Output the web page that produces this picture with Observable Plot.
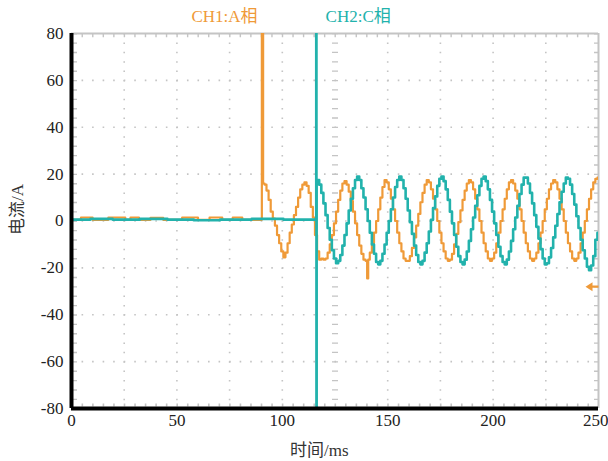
<!DOCTYPE html>
<html><head><meta charset="utf-8">
<script src="https://cdn.jsdelivr.net/npm/d3@7"></script>
<script src="https://cdn.jsdelivr.net/npm/@observablehq/plot@0.6"></script>
<style>
html,body{margin:0;padding:0;background:#fff;}
#chart svg, #chart svg text { font-family: "Liberation Serif", "Noto Sans CJK SC", serif !important; }
</style></head><body><div id="chart"></div>
<script>
const channelNames = ["CH1:A相", "CH2:C相"];
const xLabel = "时间/ms";
const yLabel = "电流/A";
const xTicks = [0, 50, 100, 150, 200];
const xLastTick = [250];
const yTicks = [-80, -60, -40, -20, 0, 20, 40, 60, 80];
const gridXTicks = [25, 50, 75, 100, 150, 175, 200, 225];
const gridYTicks = [-60, -40, -20, 0, 20, 40, 60];
const centerTime = [125];
const triggerLevel = [-28];

// CH1 (A phase) samples: [time ms, current A]
const ch1 = [[0,0.5],[9,1.5],[11,0.5],[24,1.5],[27,0.5],[29,1.5],[35,0.5],[40,1.3],[47,0.5],[58,1.5],[62,0.5],[69,1.5],[74,0.5],[79,1.5],[83,0.5],[90,0.5],[90.6,85],[91.2,16],[92,15.5],[93,13],[94,9],[95,4],[96,1],[97,-2],[98,-6],[99,-9.5],[100,-13],[101,-15.5],[102,-13.5],[103,-9.5],[104,-5],[105,-1.5],[106,2.5],[107,6],[108,10],[109,13.5],[110,15.5],[111,16.5],[112,15],[113,12],[114,6],[115,1.5],[116,-6],[117,-13],[118,-16.5],[119,-16],[120,-16.5],[121,-16],[122,-13.5],[123,-10],[124,-6],[125,-1],[126,4],[127,9],[128,13],[129,16],[130,17],[131,15.5],[132,12.5],[133,8.5],[134,4],[135,-1],[136,-6],[137,-10.5],[138,-14],[139,-16.5],[140,-17],[140.5,-24.5],[141,-16.5],[142,-13.5],[143,-9.5],[144,-5],[145,0],[146,5],[147,10],[148,14.5],[149,17.5],[150,16.5],[151,13.5],[152,9.5],[153,5],[154,0],[155,-5],[156,-9.5],[157,-13],[158,-16],[159,-17],[160,-17],[161,-15],[162,-11.5],[163,-7],[164,-2],[165,3],[166,8],[167,12],[168,15.5],[169,17.5],[170,16.5],[171,13.5],[172,9.5],[173,5],[174,0],[175,-5],[176,-9.5],[177,-13],[178,-16],[179,-17],[180,-16.5],[181,-14],[182,-10],[183,-5.5],[184,-0.5],[185,4.5],[186,9],[187,13],[188,16],[189,17.5],[190,16.5],[191,13.5],[192,9.5],[193,5],[194,0],[195,-5],[196,-9.5],[197,-13],[198,-16],[199,-17],[200,-16],[201,-13.5],[202,-9.5],[203,-5],[204,0],[205,5],[206,9.5],[207,13.5],[208,16.5],[209,17.5],[210,16],[211,13],[212,9.5],[213,5],[214,0],[215,-5],[216,-9.5],[217,-13],[218,-16],[219,-17],[220,-16],[221,-13.5],[222,-9.5],[223,-5],[224,0],[225,5],[226,9.5],[227,13.5],[228,16],[229,17.5],[230,16.5],[231,13.5],[232,9.5],[233,5],[234,0],[235,-5],[236,-9.5],[237,-13],[238,-16],[239,-17],[240,-16],[241,-13.5],[242,-9.5],[243,-5],[244,0],[245,5],[246,9.5],[247,13.5],[248,16.5],[249,18],[250,18.5]];

// CH2 (C phase) samples: [time ms, current A]
const ch2 = [[0,0.6],[18,0.9],[21,0.6],[44,0.9],[47,0.6],[69,0.3],[72,0.6],[99,0.9],[102,0.6],[116,0.6],[116.2,85],[116.2,-85],[116.4,17],[117,17.5],[118,15.5],[119,12],[120,7.5],[121,2.5],[122,-3],[123,-8],[124,-12.5],[125,-16],[126,-18],[127,-17],[128,-14.5],[129,-10.5],[130,-6],[131,-1],[132,4.5],[133,9.5],[134,14],[135,17.5],[136,19],[137,17.5],[138,14],[139,10],[140,5],[141,0],[142,-5],[143,-10],[144,-14],[145,-17.5],[146,-18.5],[147,-17],[148,-14],[149,-10],[150,-5],[151,0],[152,5],[153,10],[154,14.5],[155,17.5],[156,19],[157,17.5],[158,14],[159,9.5],[160,4.5],[161,-0.5],[162,-5.5],[163,-10.5],[164,-14.5],[165,-17.5],[166,-18.5],[167,-17],[168,-13.5],[169,-9.5],[170,-4.5],[171,0.5],[172,5.5],[173,10.5],[174,15],[175,18],[176,19],[177,17],[178,13.5],[179,9],[180,4],[181,-1],[182,-6],[183,-11],[184,-15],[185,-17.5],[186,-18.5],[187,-16.5],[188,-13],[189,-8.5],[190,-3.5],[191,1.5],[192,6.5],[193,11],[194,15],[195,18],[196,19],[197,17],[198,13.5],[199,9],[200,4],[201,-1],[202,-6],[203,-11],[204,-15],[205,-17.5],[206,-18.5],[207,-16.5],[208,-13],[209,-8.5],[210,-3.5],[211,1.5],[212,6.5],[213,11.5],[214,15.5],[215,18.5],[216,18.5],[217,16],[218,12],[219,7.5],[220,2.5],[221,-2.5],[222,-7.5],[223,-12],[224,-16],[225,-18.5],[226,-18],[227,-15.5],[228,-11.5],[229,-7],[230,-2],[231,3],[232,8],[233,12.5],[234,16],[235,18.5],[236,18],[237,15.5],[238,11.5],[239,7],[240,2],[241,-3],[242,-8],[243,-12.5],[244,-16],[245,-19.5],[246,-21],[247,-19],[248,-15],[249,-8],[250,-5]];

const orange = "#EF9A38";
const teal = "#22B2AC";
const gridC = "#c4c4c4";

const ch1Data = ch1.map(([t, v]) => ({t, v}));
const ch2Data = ch2.map(([t, v]) => ({t, v}));

const arrowSymbol = {
  draw(ctx) {
    ctx.moveTo(-13, 0);
    ctx.lineTo(-6, -4.5);
    ctx.lineTo(-6, 4.5);
    ctx.closePath();
    ctx.rect(-6, -1.2, 6, 2.4);
  }
};

const chart = Plot.plot({
  width: 608,
  height: 461,
  marginTop: 33,
  marginRight: 10,
  marginBottom: 53,
  marginLeft: 71,
  style: {fontSize: "17px", color: "#222", background: "#fff", overflow: "visible"},
  x: {domain: [0, 250]},
  y: {domain: [-80, 80]},
  marks: [
    Plot.gridX(gridXTicks, {stroke: gridC, strokeOpacity: 1, strokeWidth: 1.6, strokeDasharray: "1.6 7.775"}),
    Plot.gridY(gridYTicks, {stroke: gridC, strokeOpacity: 1, strokeWidth: 1.6, strokeDasharray: "1.6 8.94"}),
    Plot.ruleX(centerTime, {stroke: gridC, strokeWidth: 6, strokeDasharray: "1.3 8.075"}),
    Plot.ruleY([80], {stroke: gridC, strokeWidth: 2}),
    Plot.ruleY([80], {stroke: gridC, strokeWidth: 3.5, dy: 2, strokeDasharray: "1.4 9.14"}),
    Plot.ruleX([250], {stroke: gridC, strokeWidth: 2}),
    Plot.ruleX([250], {stroke: gridC, strokeWidth: 4, dx: -2.5, strokeDasharray: "1.4 7.975"}),
    Plot.ruleX([0], {stroke: gridC, strokeWidth: 4, dx: 3.5, strokeDasharray: "1.4 7.975"}),
    Plot.ruleY([-80], {stroke: gridC, strokeWidth: 3, dy: -3.5, strokeDasharray: "1.6 8.94"}),
    Plot.line(ch1Data, {x: "t", y: "v", curve: "step", stroke: orange, strokeWidth: 2.2, clip: true}),
    Plot.line(ch2Data, {x: "t", y: "v", curve: "step", stroke: teal, strokeWidth: 2.6, clip: true}),
    Plot.dot(triggerLevel, {y: d => d, frameAnchor: "right", symbol: arrowSymbol, fill: orange, stroke: "none"}),
    Plot.ruleX([0], {stroke: "#000", strokeWidth: 4}),
    Plot.ruleY([-80], {stroke: "#000", strokeWidth: 4}),
    Plot.axisX({ticks: xTicks, tickSize: 0, tickPadding: 5, tickFormat: d => String(d), label: null, fontSize: 17, fill: "#222"}),
    Plot.axisX({ticks: xLastTick, tickSize: 0, tickPadding: 5, tickFormat: d => String(d), label: null, fontSize: 17, fill: "#222", textAnchor: "end", dx: 10}),
    Plot.axisY({ticks: yTicks, tickSize: 0, tickPadding: 8, tickFormat: d => String(d), label: null, fontSize: 17, fill: "#222"}),
    Plot.text([channelNames[0]], {x: [72.6], frameAnchor: "top", textAnchor: "middle", lineAnchor: "middle", dy: -17, fill: orange, fontSize: 17}),
    Plot.text([channelNames[1]], {x: [136], frameAnchor: "top", textAnchor: "middle", lineAnchor: "middle", dy: -17, fill: teal, fontSize: 17}),
    Plot.text([xLabel], {x: [117.6], frameAnchor: "bottom", textAnchor: "middle", lineAnchor: "middle", dy: 42, fill: "#333", fontSize: 17}),
    Plot.text([yLabel], {frameAnchor: "left", rotate: -90, textAnchor: "middle", lineAnchor: "middle", dx: -54, dy: -11.5, fill: "#333", fontSize: 17})
  ]
});
document.getElementById("chart").appendChild(chart);
</script>
</body></html>
